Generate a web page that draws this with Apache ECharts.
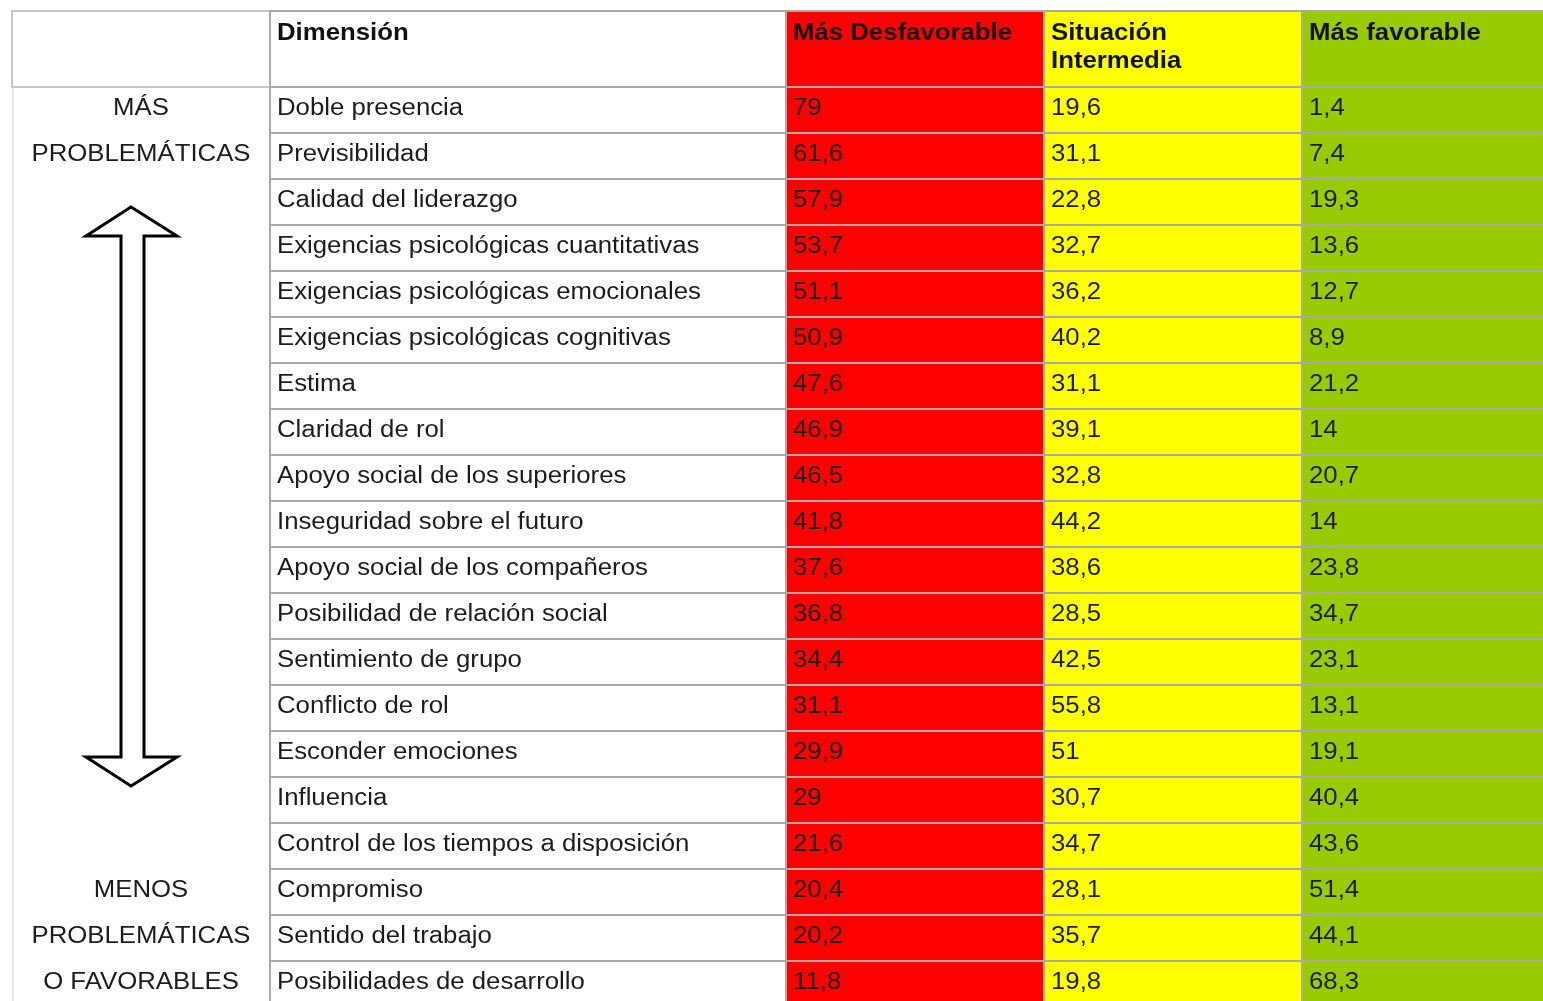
<!DOCTYPE html>
<html><head><meta charset="utf-8">
<script src="https://cdn.jsdelivr.net/npm/echarts@6/dist/echarts.min.js"></script>
<style>html,body{margin:0;padding:0;background:#fff}#c{width:1543px;height:1001px}</style>
</head><body><div id="c"></div>
<script>
const headers = ['', 'Dimensión', 'Más Desfavorable', 'Situación\nIntermedia', 'Más favorable'];
const dimensions = [
  'Doble presencia', 'Previsibilidad', 'Calidad del liderazgo',
  'Exigencias psicológicas cuantitativas', 'Exigencias psicológicas emocionales',
  'Exigencias psicológicas cognitivas', 'Estima', 'Claridad de rol',
  'Apoyo social de los superiores', 'Inseguridad sobre el futuro',
  'Apoyo social de los compañeros', 'Posibilidad de relación social',
  'Sentimiento de grupo', 'Conflicto de rol', 'Esconder emociones', 'Influencia',
  'Control de los tiempos a disposición', 'Compromiso', 'Sentido del trabajo',
  'Posibilidades de desarrollo'
];
const masDesfavorable = [79, 61.6, 57.9, 53.7, 51.1, 50.9, 47.6, 46.9, 46.5, 41.8, 37.6, 36.8, 34.4, 31.1, 29.9, 29, 21.6, 20.4, 20.2, 11.8];
const situacionIntermedia = [19.6, 31.1, 22.8, 32.7, 36.2, 40.2, 31.1, 39.1, 32.8, 44.2, 38.6, 28.5, 42.5, 55.8, 51, 30.7, 34.7, 28.1, 35.7, 19.8];
const masFavorable = [1.4, 7.4, 19.3, 13.6, 12.7, 8.9, 21.2, 14, 20.7, 14, 23.8, 34.7, 23.1, 13.1, 19.1, 40.4, 43.6, 51.4, 44.1, 68.3];
const sideLabels = ['MÁS', 'PROBLEMÁTICAS', '', '', '', '', '', '', '', '', '', '', '', '', '', '', '', 'MENOS', 'PROBLEMÁTICAS', 'O FAVORABLES'];

const chart = echarts.init(document.getElementById('c'), null, {renderer: 'canvas'});
// column edges in table units (left group, dimension x2, three value columns)
const EDGES = [0, 1, 3, 4, 5, 6];
const FILLS = ['#ffffff', '#ffffff', '#ff0000', '#ffff00', '#99cc00'];
const BORDER = '#a9a9a9';
const FONT = '"Liberation Sans", Arial, sans-serif';
const SX = 1.12;
const X_MAX = 1531 / 258;   // visible part of the table (last column runs off the page)
const Y_MAX = 914 / 46;     // visible part of the 20 rows
const valueCols = [masDesfavorable, situacionIntermedia, masFavorable];
const fmt = v => String(v).replace('.', ',');

function cellText(c, r) {
  if (c === 0) return sideLabels[r];
  if (c === 1) return dimensions[r];
  return fmt(valueCols[c - 2][r]);
}

const bodyData = [];
dimensions.forEach((d, r) => { for (let c = 0; c < 5; c++) bodyData.push([c, r]); });
const headData = headers.map((h, c) => [c, 0]);

function renderBody(params, api) {
  const c = api.value(0), r = api.value(1);
  const p0 = api.coord([EDGES[c], r]);
  const p1 = api.coord([EDGES[c + 1], r + 1]);
  const x0 = Math.round(p0[0]), x1 = Math.round(p1[0]);
  const y0 = Math.round(p0[1]), y1 = Math.round(p1[1]);
  const cy = (p0[1] + p1[1]) / 2;
  const children = [];
  if (c > 0) {
    children.push({type: 'rect', shape: {x: x0, y: y0, width: x1 - x0, height: y1 - y0},
      style: {fill: FILLS[c], stroke: BORDER, lineWidth: 2}});
  }
  const txt = cellText(c, r);
  if (txt) {
    const center = c === 0;
    children.push({type: 'text', x: center ? (x0 + x1) / 2 : x0 + 7, y: cy - 1, scaleX: SX,
      style: {text: txt, font: '23px ' + FONT, fill: '#1c1c1c', align: center ? 'center' : 'left', verticalAlign: 'middle'}});
  }
  return {type: 'group', children};
}

function renderHead(params, api) {
  const c = api.value(0);
  const p0 = api.coord([EDGES[c], 0]);
  const p1 = api.coord([EDGES[c + 1], 1]);
  const x0 = Math.round(p0[0]), x1 = Math.round(p1[0]);
  const y0 = Math.round(p0[1]), y1 = Math.round(p1[1]);
  const children = [{type: 'rect', shape: {x: x0, y: y0, width: x1 - x0, height: y1 - y0},
    style: {fill: FILLS[c], stroke: c === 0 ? '#c8c8c8' : BORDER, lineWidth: 2}}];
  if (headers[c]) {
    children.push({type: 'text', x: x0 + 7, y: y0 + 9, scaleX: SX,
      style: {text: headers[c], font: 'bold 23px ' + FONT, lineHeight: 28, fill: '#111', align: 'left', verticalAlign: 'top'}});
  }
  return {type: 'group', children};
}

const option = {
  backgroundColor: '#ffffff',
  animation: false,
  tooltip: {show: false},
  grid: [
    {left: 12, right: 0, top: 11, height: 76},
    {left: 12, right: 0, top: 87, bottom: 0}
  ],
  xAxis: [
    {gridIndex: 0, type: 'value', min: 0, max: X_MAX, show: false},
    {gridIndex: 1, type: 'value', min: 0, max: X_MAX, show: false}
  ],
  yAxis: [
    {gridIndex: 0, type: 'value', min: 0, max: 1, inverse: true, show: false},
    {gridIndex: 1, type: 'value', min: 0, max: Y_MAX, inverse: true, show: false}
  ],
  series: [
    {type: 'custom', xAxisIndex: 0, yAxisIndex: 0, data: headData, renderItem: renderHead, silent: true, clip: false},
    {type: 'custom', xAxisIndex: 1, yAxisIndex: 1, data: bodyData, renderItem: renderBody, silent: true, clip: false}
  ],
  graphic: [
    {type: 'line', shape: {x1: 13, y1: 88, x2: 13, y2: 1001}, style: {stroke: '#e6e6e6', lineWidth: 2}, silent: true},
    {type: 'polygon', z: 10, silent: true,
      shape: {points: [[131, 207], [177, 236], [144, 236], [144, 757], [177, 757], [131, 786], [86, 757], [121, 757], [121, 236], [86, 236]]},
      style: {fill: '#ffffff', stroke: '#000000', lineWidth: 3, lineJoin: 'miter'}}
  ]
};
chart.setOption(option);
</script>
</body></html>
